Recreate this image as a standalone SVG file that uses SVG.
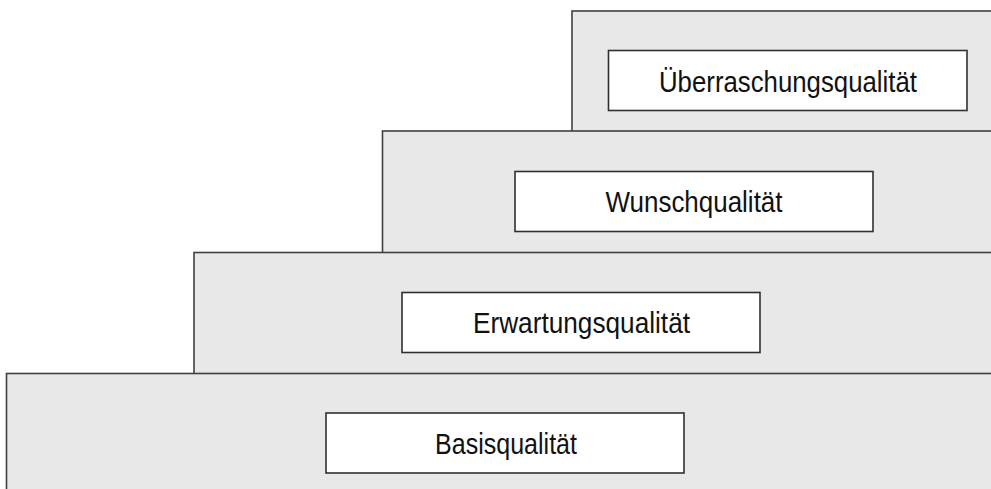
<svg xmlns="http://www.w3.org/2000/svg" width="991" height="489" viewBox="0 0 991 489">
<style>
.step{fill:#e8e8e8;stroke:#404040;stroke-width:1.6}
.box{fill:#ffffff;stroke:#303030;stroke-width:1.6}
.lbl{font-family:"Liberation Sans",Arial,sans-serif;font-size:29px;fill:#111;text-anchor:middle}
</style>
<rect width="991" height="489" fill="#ffffff"/>
<g id="step-ueberraschung">
<rect class="step" x="572" y="11" width="440" height="500"/>
<rect class="box" x="608.5" y="50.5" width="358.5" height="60"/>
<text class="lbl" x="788" y="92" textLength="258" lengthAdjust="spacingAndGlyphs">Überraschungsqualität</text>
</g>
<g id="step-wunsch">
<rect class="step" x="382.5" y="131" width="640" height="400"/>
<rect class="box" x="515" y="171.5" width="358" height="60"/>
<text class="lbl" x="694" y="212" textLength="177" lengthAdjust="spacingAndGlyphs">Wunschqualität</text>
</g>
<g id="step-erwartung">
<rect class="step" x="194" y="252.5" width="830" height="300"/>
<rect class="box" x="402" y="292.5" width="358" height="60"/>
<text class="lbl" x="581.5" y="333" textLength="217" lengthAdjust="spacingAndGlyphs">Erwartungsqualität</text>
</g>
<g id="step-basis">
<rect class="step" x="6.5" y="373.5" width="1020" height="200"/>
<rect class="box" x="326" y="413" width="358" height="60"/>
<text class="lbl" x="506" y="454" textLength="142" lengthAdjust="spacingAndGlyphs">Basisqualität</text>
</g>
<g id="connectors"></g>
</svg>
